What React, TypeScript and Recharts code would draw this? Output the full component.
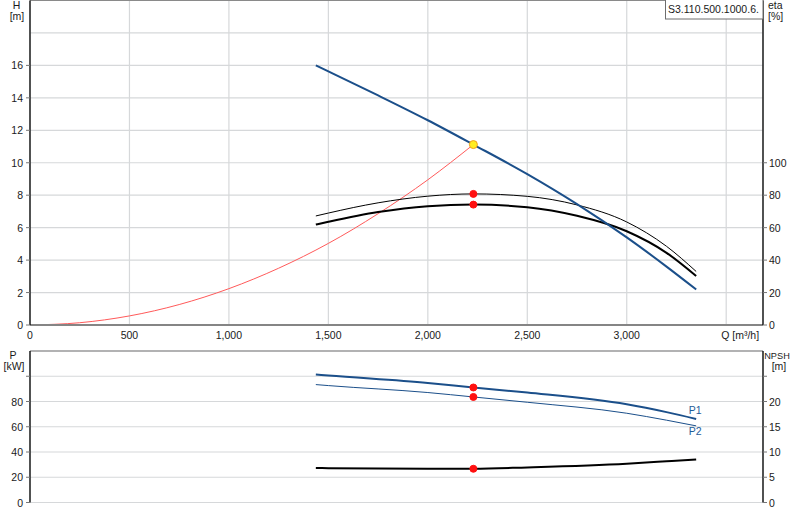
import { LineChart, Line, XAxis, YAxis, CartesianGrid, ReferenceLine, ReferenceDot } from "recharts";

const FONT = "'Liberation Sans', Arial, sans-serif";
const BLUE = "#1b4f8a";

// flow axis
const qTicks = [0, 500, 1000, 1500, 2000, 2500, 3000, 3500];
const qMax = 3685;

// head curve
const qHead = [1437, 1500, 1750, 2000, 2229, 2500, 2750, 3000, 3200, 3349];
const head = [16.0, 15.63, 14.15, 12.62, 11.12, 9.3, 7.45, 5.4, 3.6, 2.19];

// efficiency curves (%)
const qEta = [1437, 1500, 1750, 2000, 2229, 2500, 2750, 3000, 3200, 3349];
const etaUpper = [67.2, 69.0, 75.3, 79.4, 80.8, 79.3, 74.0, 63.5, 48.5, 33.0];
const etaLower = [61.9, 63.6, 69.6, 73.2, 74.2, 72.6, 67.3, 57.8, 44.5, 30.2];

// system curve
const qSystem = [0, 250, 500, 750, 1000, 1250, 1500, 1750, 2000, 2229];
const hSystem = [0, 0.14, 0.56, 1.26, 2.24, 3.5, 5.03, 6.86, 8.95, 11.12];

// duty point
const dutyQ = 2229;
const dutyH = 11.12;
const dutyEta = [80.8, 74.2];
const dutyP = [91.1, 83.6];
const dutyNpsh = 6.68;

// power and npsh
const qPower = [1437, 1500, 2000, 2229, 2500, 3000, 3200, 3349];
const p1 = [101.3, 100.5, 94.7, 91.1, 87.1, 77.8, 71.6, 66.2];
const p2 = [93.4, 92.6, 87.1, 83.6, 79.4, 70.7, 65.2, 60.7];
const npsh = [6.83, 6.8, 6.68, 6.68, 6.95, 7.68, 8.16, 8.53];

const hTicks = [0, 2, 4, 6, 8, 10, 12, 14, 16, 18];
const etaTicks = [0, 20, 40, 60, 80, 100];
const pTicks = [0, 20, 40, 60, 80, 100];
const npshTicks = [0, 5, 10, 15, 20, 25];

const series = (xs: number[], ys: number[]) => xs.map((q, i) => ({ q, v: ys[i] }));

const txt = { fontFamily: FONT, fontSize: 10.5, fill: "#1a1a1a" };

function LeftTick({ x, y, payload, hideLabel, hideLine }: any) {
  return (
    <g>
      {!hideLine?.includes(payload.value) && <line x1={x - 4} x2={x} y1={y} y2={y} stroke="#777" />}
      {!hideLabel?.includes(payload.value) && (
        <text x={x - 7} y={y + 4} textAnchor="end" {...txt}>{payload.value}</text>
      )}
    </g>
  );
}

function RightTick({ x, y, payload, hideLabel, hideLine }: any) {
  return (
    <g>
      {!hideLine?.includes(payload.value) && <line x1={x} x2={x + 4} y1={y} y2={y} stroke="#777" />}
      {!hideLabel?.includes(payload.value) && (
        <text x={x + 6} y={y + 4} textAnchor="start" {...txt}>{payload.value}</text>
      )}
    </g>
  );
}

function QTick({ x, y, payload }: any) {
  const v = payload.value;
  if (v === 3500)
    return <text x={x - 5} y={y + 13.5} textAnchor="start" {...txt}>Q [m³/h]</text>;
  return <text x={x} y={y + 13.5} textAnchor="middle" {...txt}>{v.toLocaleString("en-US")}</text>;
}

function EndLabel(text: string, dy: number) {
  const last = qPower.length - 1;
  return (props: any) =>
    props.index === last ? (
      <text key={text} x={props.x - 1} y={props.y + dy} textAnchor="middle" {...txt} fill="#1f5c99">
        {text}
      </text>
    ) : null;
}

const grid = { stroke: "#d6d8da", strokeWidth: 1.2 };

export default function App() {
  return (
    <div style={{ position: "absolute", left: 0, top: 0, width: 800, height: 520, background: "#fff", fontFamily: FONT }}>
      <div style={{ position: "absolute", left: 0, top: 0 }}>
        <LineChart width={800} height={345} margin={{ top: 0.5, right: 0, bottom: 0, left: 0 }}>
          <CartesianGrid yAxisId="h" {...grid} />
          <XAxis
            type="number"
            dataKey="q"
            domain={[0, qMax]}
            ticks={qTicks}
            interval={0}
            height={20}
            tickSize={0}
            tickMargin={0}
            tickLine={false}
            axisLine={{ stroke: "#858585", strokeWidth: 2 }}
            tick={<QTick />}
          />
          <YAxis
            yAxisId="h"
            domain={[0, 20]}
            ticks={hTicks}
            interval={0}
            width={30}
            tickSize={0}
            tickMargin={0}
            tickLine={false}
            axisLine={{ stroke: "#000", strokeWidth: 1.3 }}
            tick={<LeftTick hideLabel={[18]} hideLine={[18]} />}
          />
          <YAxis
            yAxisId="eta"
            orientation="right"
            domain={[0, 200]}
            ticks={etaTicks}
            interval={0}
            width={37}
            tickSize={0}
            tickMargin={0}
            tickLine={false}
            axisLine={{ stroke: "#000", strokeWidth: 1.3 }}
            tick={<RightTick />}
          />
          <ReferenceLine yAxisId="h" y={20} stroke="#8a8a8a" strokeWidth={1.2} ifOverflow="visible" />
          <Line yAxisId="h" data={series(qSystem, hSystem)} dataKey="v" type="monotone" stroke="#ff5a5a" strokeWidth={1} dot={false} isAnimationActive={false} />
          <Line yAxisId="eta" data={series(qEta, etaUpper)} dataKey="v" type="monotone" stroke="#000" strokeWidth={1} dot={false} isAnimationActive={false} />
          <Line yAxisId="eta" data={series(qEta, etaLower)} dataKey="v" type="monotone" stroke="#000" strokeWidth={2} dot={false} isAnimationActive={false} />
          <Line yAxisId="h" data={series(qHead, head)} dataKey="v" type="monotone" stroke={BLUE} strokeWidth={2} dot={false} isAnimationActive={false} />
          {dutyEta.map((e) => (
            <ReferenceDot key={e} yAxisId="eta" x={dutyQ} y={e} r={3.5} fill="#ff1010" stroke="#ff1010" />
          ))}
          <ReferenceDot yAxisId="h" x={dutyQ} y={dutyH} r={4} fill="#ffee22" stroke="#f0a020" strokeWidth={1} />
        </LineChart>
      </div>

      <div style={{ position: "absolute", left: 0, top: 345 }}>
        <LineChart width={800} height={175} margin={{ top: 6, right: 0, bottom: 17.5, left: 0 }}>
          <CartesianGrid yAxisId="p" {...grid} />
          <XAxis
            type="number"
            dataKey="q"
            domain={[0, qMax]}
            ticks={qTicks}
            interval={0}
            height={0}
            tick={false}
            tickLine={false}
            axisLine={{ stroke: "#858585", strokeWidth: 2 }}
          />
          <YAxis
            yAxisId="p"
            domain={[0, 120]}
            ticks={pTicks}
            interval={0}
            width={30}
            tickSize={0}
            tickMargin={0}
            tickLine={false}
            axisLine={{ stroke: "#000", strokeWidth: 1.3 }}
            tick={<LeftTick hideLabel={[100]} />}
          />
          <YAxis
            yAxisId="npsh"
            orientation="right"
            domain={[0, 30]}
            ticks={npshTicks}
            interval={0}
            width={37}
            tickSize={0}
            tickMargin={0}
            tickLine={false}
            axisLine={{ stroke: "#000", strokeWidth: 1.3 }}
            tick={<RightTick hideLabel={[25]} />}
          />
          <ReferenceLine yAxisId="p" y={120} stroke="#7a7a7a" strokeWidth={1.2} ifOverflow="visible" />
          <Line yAxisId="p" data={series(qPower, p1)} dataKey="v" type="monotone" stroke={BLUE} strokeWidth={2} dot={false} label={EndLabel("P1", -4.5)} isAnimationActive={false} />
          <Line yAxisId="p" data={series(qPower, p2)} dataKey="v" type="monotone" stroke={BLUE} strokeWidth={1} dot={false} label={EndLabel("P2", 9.5)} isAnimationActive={false} />
          <Line yAxisId="npsh" data={series(qPower, npsh)} dataKey="v" type="monotone" stroke="#000" strokeWidth={2} dot={false} isAnimationActive={false} />
          {dutyP.map((p) => (
            <ReferenceDot key={p} yAxisId="p" x={dutyQ} y={p} r={3.5} fill="#ff1010" stroke="#ff1010" />
          ))}
          <ReferenceDot yAxisId="npsh" x={dutyQ} y={dutyNpsh} r={3.5} fill="#ff1010" stroke="#ff1010" />
        </LineChart>
      </div>

      {/* axis titles */}
      <svg width={800} height={520} style={{ position: "absolute", left: 0, top: 0, pointerEvents: "none" }}>
        <text x={16.5} y={9} textAnchor="middle" {...txt}>H</text>
        <text x={17} y={20} textAnchor="middle" {...txt}>[m]</text>
        <text x={768} y={9} textAnchor="start" {...txt}>eta</text>
        <text x={768} y={20} textAnchor="start" {...txt}>[%]</text>
        <text x={13} y={358.5} textAnchor="middle" {...txt}>P</text>
        <text x={14} y={369.5} textAnchor="middle" {...txt}>[kW]</text>
        <text x={777} y={358.5} textAnchor="middle" {...txt} fontSize={9.2}>NPSH</text>
        <text x={779} y={370} textAnchor="middle" {...txt}>[m]</text>
        <rect x={665.5} y={-0.5} width={97.5} height={19.5} fill="#fff" stroke="#6e6e6e" strokeWidth={1} />
        <text x={668} y={12.5} {...txt}>S3.110.500.1000.6.</text>
      </svg>
    </div>
  );
}
